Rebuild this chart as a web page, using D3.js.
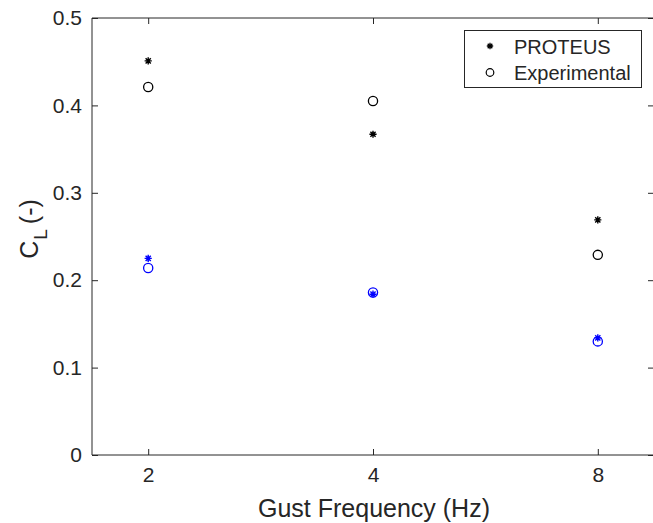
<!DOCTYPE html>
<html>
<head>
<meta charset="utf-8">
<script src="https://cdn.jsdelivr.net/npm/d3@7"></script>
<style>
  body { margin: 0; background: #fff; }
  text { font-family: "Liberation Sans", Arial, sans-serif; fill: #262626; }
</style>
</head>
<body>
<div id="chart"></div>
<script>
// Data
let freqLabels = ['2', '4', '8']
let proteusBlack = [0.451, 0.367, 0.269]
let expBlack = [0.421, 0.405, 0.229]
let proteusBlue = [0.225, 0.184, 0.134]
let expBlue = [0.214, 0.186, 0.130]
let yTicks = [0, 0.1, 0.2, 0.3, 0.4, 0.5]

let svgWidth = 653, svgHeight = 523
let margin = { top: 18, right: -1, bottom: 68, left: 92 }
let width = svgWidth - margin.left - margin.right
let height = svgHeight - margin.top - margin.bottom

let svg = d3.select('#chart').append('svg')
    .attr('width', svgWidth)
    .attr('height', svgHeight)

let g = svg.append('g')
    .attr('transform', 'translate(' + margin.left + ',' + margin.top + ')')

// x: categorical positions 1..3, limits 0.75 - 3.25
let x = d3.scaleLinear().domain([0.75, 3.25]).range([0, width])
let y = d3.scaleLinear().domain([0, 0.5]).range([height, 0])

let axisColor = '#262626'

// box
g.append('path')
    .attr('d', 'M0,0V' + height + 'H' + width + 'V0Z')
    .attr('fill', 'none')
    .attr('stroke', axisColor)
    .attr('stroke-width', 1)

// x axis ticks (inward) bottom and top
let xAxis = g.append('g').attr('transform', 'translate(0,' + height + ')')
    .call(d3.axisBottom(x).tickValues([1, 2, 3]).tickFormat((d, i) => freqLabels[i]).tickSizeInner(-6).tickSizeOuter(0).tickPadding(12))
xAxis.select('.domain').remove()
xAxis.selectAll('line').attr('stroke', axisColor)
xAxis.selectAll('text').style('font-size', '21px').attr('fill', axisColor)

let xTop = g.append('g')
    .call(d3.axisTop(x).tickValues([1, 2, 3]).tickFormat('').tickSizeInner(-6).tickSizeOuter(0))
xTop.select('.domain').remove()
xTop.selectAll('line').attr('stroke', axisColor)

// y axis
let yAxis = g.append('g')
    .call(d3.axisLeft(y).tickValues(yTicks).tickFormat(d => d3.format('~g')(d)).tickSizeInner(-6).tickSizeOuter(0).tickPadding(10))
yAxis.select('.domain').remove()
yAxis.selectAll('line').attr('stroke', axisColor)
yAxis.selectAll('text').style('font-size', '21px').attr('fill', axisColor)

let yRight = g.append('g').attr('transform', 'translate(' + width + ',0)')
    .call(d3.axisRight(y).tickValues(yTicks).tickFormat('').tickSizeInner(-6).tickSizeOuter(0))
yRight.select('.domain').remove()
yRight.selectAll('line').attr('stroke', axisColor)

// axis labels
svg.append('text')
    .attr('x', 374).attr('y', 517)
    .attr('text-anchor', 'middle')
    .style('font-size', '25px')
    .text('Gust Frequency (Hz)')

let yl = svg.append('text')
    .attr('transform', 'translate(38,229) rotate(-90)')
    .attr('text-anchor', 'middle')
    .style('font-size', '25px')
yl.append('tspan').text('C')
yl.append('tspan').attr('dy', 9).attr('dx', 1).style('font-size', '19px').text('L')
yl.append('tspan').attr('dy', -9).attr('dx', 5).text('(-)')

// markers
let starPath = (cx, cy, r) => {
    let d = 'M' + (cx - r) + ',' + cy + 'H' + (cx + r)
        + 'M' + cx + ',' + (cy - r) + 'V' + (cy + r)
    let k = r * 0.72
    d += 'M' + (cx - k) + ',' + (cy - k) + 'L' + (cx + k) + ',' + (cy + k)
    d += 'M' + (cx - k) + ',' + (cy + k) + 'L' + (cx + k) + ',' + (cy - k)
    return d
}

let drawStars = (vals, color) => {
    g.append('g').selectAll('path').data(vals).join('path')
        .attr('d', (d, i) => starPath(x(i + 1), y(d), 3.6))
        .attr('stroke', color)
        .attr('stroke-width', 1.4)
        .attr('fill', 'none')
}
let drawCircles = (vals, color) => {
    g.append('g').selectAll('circle').data(vals).join('circle')
        .attr('cx', (d, i) => x(i + 1))
        .attr('cy', d => y(d))
        .attr('r', 4.6)
        .attr('stroke', color)
        .attr('stroke-width', 1.3)
        .attr('fill', 'none')
}

drawStars(proteusBlack, '#000')
drawCircles(expBlack, '#000')
drawStars(proteusBlue, '#0000ff')
drawCircles(expBlue, '#0000ff')

// legend
let lg = svg.append('g')
lg.append('rect')
    .attr('x', 464.5).attr('y', 30.5).attr('width', 177).attr('height', 57)
    .attr('fill', '#fff').attr('stroke', axisColor).attr('stroke-width', 1)
lg.append('path').attr('d', starPath(490, 46, 3.2)).attr('stroke', '#000').attr('stroke-width', 1.3).attr('fill', 'none')
lg.append('circle').attr('cx', 490).attr('cy', 72.5).attr('r', 3.8).attr('stroke', '#000').attr('stroke-width', 1.2).attr('fill', 'none')
lg.append('text').attr('x', 514).attr('y', 54).style('font-size', '20px').text('PROTEUS')
lg.append('text').attr('x', 514).attr('y', 80).style('font-size', '20px').text('Experimental')
</script>
</body>
</html>
